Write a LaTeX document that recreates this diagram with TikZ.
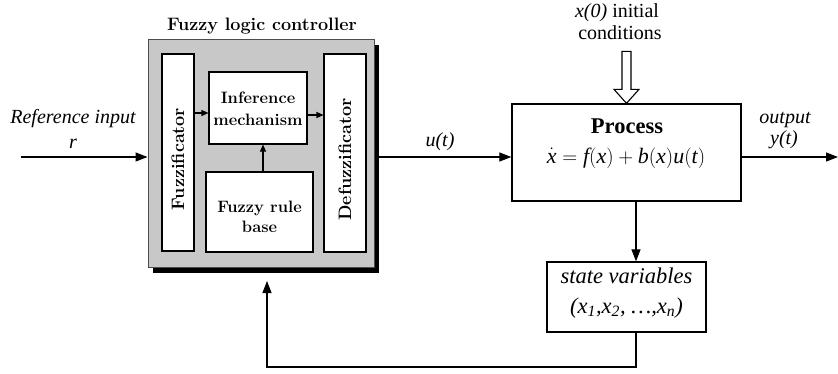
\documentclass[tikz,border=0pt]{standalone}
\usepackage{fontspec}
\setmainfont{Liberation Serif}
\newfontfamily\lmfont{Latin Modern Roman}
\usetikzlibrary{arrows.meta}
\definecolor{flcgray}{RGB}{200,200,200}
\begin{document}
\begin{tikzpicture}[x=1pt,y=-1pt,
  line width=1.2pt,
  arr/.style={-{Triangle[length=12pt,width=9pt]}},
  sarr/.style={-{Triangle[length=7pt,width=6pt]}, line width=1.1pt},
  boxw/.style={draw, fill=white, line width=1.1pt, inner sep=0pt},
  lab/.style={inner sep=0pt, anchor=base, font=\fontsize{20}{24}\selectfont\itshape},
  labup/.style={inner sep=0pt, anchor=base, font=\fontsize{20}{24}\selectfont},
  biglab/.style={inner sep=0pt, anchor=base, font=\fontsize{22.5}{26}\selectfont\itshape},
  flcb/.style={inner sep=0pt, anchor=base, font=\fontsize{16.5}{20}\selectfont\lmfont\bfseries},
  flcv/.style={inner sep=0pt, anchor=center, rotate=90, font=\fontsize{18}{20}\selectfont\lmfont\bfseries},
]
\useasboundingbox (0,0) rectangle (838,373);

% shadow and gray controller box
\node[fill=black, minimum width=226pt, minimum height=228pt, inner sep=0pt] (flcshadow) at (265.5,158.5) {};
\node[draw=black!70, fill=flcgray, line width=1pt, minimum width=226pt, minimum height=228pt, inner sep=0pt] (flc) at (261,153) {};
\node[inner sep=0pt, anchor=base, font=\fontsize{18}{20}\selectfont\lmfont\bfseries] (flctitle) at (262,30) {Fuzzy logic controller};

% inner boxes
\node[boxw, minimum width=32pt, minimum height=197pt] (fuzz) at (178,152.5) {};
\node[boxw, minimum width=98pt, minimum height=72pt] (inf) at (258,108) {};
\node[boxw, minimum width=107pt, minimum height=80pt] (rule) at (259.5,212) {};
\node[boxw, minimum width=42pt, minimum height=198pt] (defuzz) at (345,153) {};

\node[flcv] (fuzzlab) at (178,159) {Fuzzificator};
\node[flcv] (defuzzlab) at (345,159.5) {Defuzzificator};
\node[flcb] (inflab1) at (258,103) {Inference};
\node[flcb] (inflab2) at (258,125) {mechanism};
\node[flcb] (rulelab1) at (259.5,212) {Fuzzy rule};
\node[flcb] (rulelab2) at (259.5,232) {base};

\coordinate (ya) at (0,113);
\coordinate (yb) at (0,115);
\coordinate (xr) at (263,0);
\draw[sarr] (fuzz.east |- ya) -- (inf.west |- ya);
\draw[sarr] (inf.east |- yb) -- (defuzz.west |- yb);
\draw[sarr] (rule.north -| xr) -- (inf.south -| xr);

% process and state boxes
\node[draw, line width=1.3pt, minimum width=229pt, minimum height=97pt, inner sep=0pt] (proc) at (626.5,152.5) {};
\node[inner sep=0pt, anchor=base, font=\fontsize{22.5}{26}\selectfont\bfseries] (proclab) at (627,133) {Process};
\node[inner sep=0pt, anchor=base, text height=15pt, text depth=4pt, font=\fontsize{22}{34}\selectfont] (proceq) at (626,163) {$\dot{\textit{x}}=\textit{f}\bigl(\textit{x}\bigr)+\textit{b}\bigl(\textit{x}\bigr)\textit{u}\bigl(\textit{t}\bigr)$};

\node[draw, line width=1.3pt, minimum width=159pt, minimum height=70pt, inner sep=0pt] (state) at (626.5,297) {};
\node[biglab] (statelab1) at (626.5,283) {state variables};
\node[biglab] (statelab2) at (626.5,313) {(x\textsubscript{1},x\textsubscript{2}, \ldots,x\textsubscript{n})};

% labels
\node[lab] (reflab1) at (73,123) {Reference input};
\node[lab] (reflab2) at (73,148) {r};
\node[lab] (ulab) at (440,146) {u(t)};
\node[lab] (outlab1) at (785,123) {output};
\node[lab] (outlab2) at (784,144) {y(t)};
\node[labup] (x0lab1) at (617,17) {\textit{x(0)} initial};
\node[labup] (x0lab2) at (620,39) {conditions};

% connectors
\coordinate (rin) at (21,157);
\coordinate (ml) at (0,157);
\coordinate (yout) at (838,157);
\draw[arr] (rin) -- (rin -| flc.west);
\draw[arr] (ml -| flc.east) -- (ml -| proc.west);
\draw[arr] (ml -| proc.east) -- (yout);

% hollow initial-condition arrow
\draw[line width=1.1pt, fill=white] (proc.north) -- ++(-12.5,-14) -- ++(8,0) -- ++(0,-38) -- ++(9,0) -- ++(0,38) -- ++(8,0) -- cycle;

\coordinate (xs) at (636,0);
\coordinate (fb) at (267,367);
\coordinate (fbend) at (267,281);
\draw[arr] (proc.south -| xs) -- (state.north -| xs);
\draw[arr] (state.south -| xs) |- (fb) -- (fbend);
\end{tikzpicture}
\end{document}
